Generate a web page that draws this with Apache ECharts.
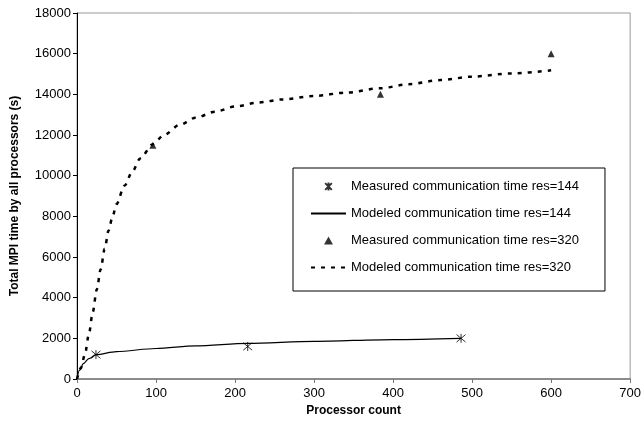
<!DOCTYPE html>
<html>
<head>
<meta charset="utf-8">
<script src="https://cdn.jsdelivr.net/npm/echarts@6/dist/echarts.min.js"></script>
<style>
  html, body { margin: 0; padding: 0; background: #fff; }
  #chart { width: 644px; height: 423px; }
</style>
</head>
<body>
<div id="chart"></div>
<script>
// measured points
const measured144X = [24, 216, 486];
const measured144Y = [1200, 1600, 2000];
const measured320X = [96, 384, 600];
const measured320Y = [11500, 14000, 16000];

// modeled curves
const model144X = [0, 3, 8, 15, 24, 50, 100, 150, 216, 300, 400, 486];
const model144Y = [0, 420, 760, 1000, 1200, 1350, 1500, 1630, 1750, 1850, 1940, 2000];
const model320X = [0, 5, 10, 15, 20, 25, 30, 35, 40, 45, 50, 60, 70, 80, 96, 110, 130, 150, 175, 200, 230, 260, 300, 340, 384, 420, 460, 500, 550, 600];
const model320Y = [0, 550, 1200, 2200, 3300, 4400, 5400, 6400, 7300, 8000, 8600, 9500, 10200, 10850, 11550, 12000, 12500, 12850, 13150, 13400, 13600, 13750, 13920, 14080, 14300, 14500, 14700, 14870, 15030, 15180];

const seriesNames = [
  'Measured communication time res=144',
  'Modeled communication time res=144',
  'Measured communication time res=320',
  'Modeled communication time res=320'
];

const pairs = (xs, ys) => xs.map((x, i) => [x, ys[i]]);
const font = 'Liberation Sans, Arial, sans-serif';
const asterisk = 'path://M0,0L10,10M10,0L0,10M5,-1L5,11';
const triangle = 'path://M5,0L10,9L0,9Z';
// line series: hide the legend dot, keep the line
const hiddenDot = { color: 'rgba(0,0,0,0)', borderWidth: 0 };

const chart = echarts.init(document.getElementById('chart'));

const option = {
  animation: false,
  textStyle: { fontFamily: font, color: '#000' },
  grid: {
    left: 77, right: 13, top: 13, bottom: 44,
    show: true, borderColor: '#999', borderWidth: 1
  },
  legend: {
    orient: 'vertical',
    left: 293,
    top: 168,
    data: [
      { name: seriesNames[0], icon: asterisk },
      { name: seriesNames[1] },
      { name: seriesNames[2], icon: triangle },
      { name: seriesNames[3] }
    ],
    itemWidth: 35,
    itemHeight: 8,
    itemGap: 14,
    symbolKeepAspect: true,
    padding: [12, 26, 17, 17],
    borderColor: '#000',
    borderWidth: 1,
    backgroundColor: '#fff',
    textStyle: { fontFamily: font, fontSize: 13, color: '#000' }
  },
  xAxis: {
    type: 'value',
    min: 0, max: 700, interval: 100,
    name: 'Processor count',
    nameLocation: 'middle',
    nameGap: 26,
    nameTextStyle: { fontFamily: font, fontSize: 12, fontWeight: 'bold', color: '#000' },
    axisLine: { lineStyle: { color: '#777', width: 1.5 } },
    axisTick: { inside: false, length: 4, lineStyle: { color: '#777' } },
    axisLabel: { fontFamily: font, fontSize: 13, color: '#000', margin: 8 },
    splitLine: { show: false }
  },
  yAxis: {
    type: 'value',
    min: 0, max: 18000, interval: 2000,
    name: 'Total MPI time by all processors (s)',
    nameLocation: 'middle',
    nameGap: 56,
    nameTextStyle: { fontFamily: font, fontSize: 12, fontWeight: 'bold', color: '#000' },
    axisLine: { show: true, lineStyle: { color: '#000', width: 1 } },
    axisTick: { show: true, inside: false, length: 4, lineStyle: { color: '#000' } },
    axisLabel: { fontFamily: font, fontSize: 13, color: '#000', margin: 6, formatter: v => String(v) },
    splitLine: { show: false }
  },
  series: [
    {
      name: seriesNames[0],
      type: 'scatter',
      symbol: asterisk,
      symbolSize: 9,
      itemStyle: { color: 'transparent', borderColor: '#000', borderWidth: 1 },
      data: pairs(measured144X, measured144Y),
      z: 5
    },
    {
      name: seriesNames[1],
      type: 'line',
      smooth: 0.3,
      smoothMonotone: 'x',
      symbol: 'none',
      lineStyle: { color: '#000', width: 1.2 },
      itemStyle: hiddenDot,
      data: pairs(model144X, model144Y)
    },
    {
      name: seriesNames[2],
      type: 'scatter',
      symbol: triangle,
      symbolSize: 7,
      itemStyle: { color: '#000' },
      data: pairs(measured320X, measured320Y),
      z: 5
    },
    {
      name: seriesNames[3],
      type: 'line',
      smooth: 0.3,
      smoothMonotone: 'x',
      symbol: 'none',
      lineStyle: { color: '#000', width: 2.5, type: [4, 6] },
      itemStyle: hiddenDot,
      data: pairs(model320X, model320Y)
    }
  ]
};

chart.setOption(option);
</script>
</body>
</html>
